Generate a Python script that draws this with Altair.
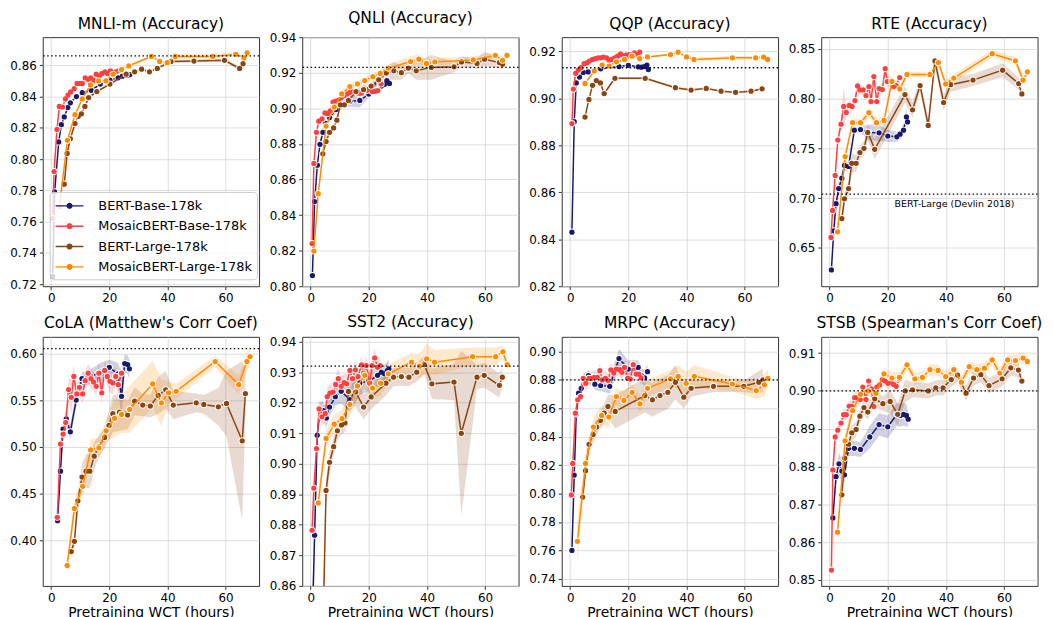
import math
import altair as alt
import pandas as pd

SERIES = ["BERT-Base-178k", "MosaicBERT-Base-178k", "BERT-Large-178k", "MosaicBERT-Large-178k"]
KEYS = ["BB", "MB", "BL", "ML"]
COLORS = ["#191970", "#ff4040", "#8b4513", "#ff8c00"]

X_DOMAIN = [-2.9, 71.5]
X_TICKS = [0, 20, 40, 60]

TASKS = ["MNLI", "QNLI", "QQP", "RTE", "COLA", "SST2", "MRPC", "STSB"]
TITLES = ["MNLI-m (Accuracy)", "QNLI (Accuracy)", "QQP (Accuracy)", "RTE (Accuracy)",
          "CoLA (Matthew's Corr Coef)", "SST2 (Accuracy)", "MRPC (Accuracy)", "STSB (Spearman's Corr Coef)"]
REF_LINES = [0.866, 0.923, 0.913, 0.704, 0.605, 0.932, 0.880, 0.900]

Y_DOMAINS = [[0.7187, 0.878], [0.80, 0.94], [0.82, 0.926], [0.6116, 0.8616],
             [0.3513, 0.6176], [0.86, 0.9416], [0.735, 0.9103], [0.8484, 0.9143]]
MNLI_TICKS = [0.72, 0.74, 0.76, 0.78, 0.80, 0.82, 0.84, 0.86]
QNLI_TICKS = [0.80, 0.82, 0.84, 0.86, 0.88, 0.90, 0.92, 0.94]
QQP_TICKS = [0.82, 0.84, 0.86, 0.88, 0.90, 0.92]
RTE_TICKS = [0.65, 0.70, 0.75, 0.80, 0.85]
COLA_TICKS = [0.40, 0.45, 0.50, 0.55, 0.60]
SST2_TICKS = [0.86, 0.87, 0.88, 0.89, 0.90, 0.91, 0.92, 0.93, 0.94]
MRPC_TICKS = [0.74, 0.76, 0.78, 0.80, 0.82, 0.84, 0.86, 0.88, 0.90]
STSB_TICKS = [0.85, 0.86, 0.87, 0.88, 0.89, 0.90, 0.91]

NOTE_TEXT = ["BERT-Large (Devlin 2018)"]
NOTE_X = [22.3]
NOTE_Y = [0.6937]

# ---------------- MNLI ----------------
MNLI_BB_X = [0.5, 1.2, 2.6, 3.5, 4.5, 5.7, 6.6, 8.7, 10.7, 13.8, 16.9, 20.2, 23.0, 24.5, 26.0, 27.0]
MNLI_BB_Y = [0.725, 0.779, 0.811, 0.822, 0.827, 0.833, 0.836, 0.840, 0.8425, 0.844, 0.848, 0.8505, 0.852, 0.853, 0.8535, 0.854]
MNLI_BB_E = [0.002, 0.002, 0.0015, 0.0015, 0.0015, 0.0012, 0.0012, 0.001, 0.001, 0.001, 0.001, 0.001, 0.001, 0.001, 0.001, 0.001]
MNLI_MB_X = [0.5, 1.0, 2.0, 2.8, 3.9, 4.9, 5.8, 6.7, 7.9, 8.9, 9.9, 10.7, 11.7, 12.7, 13.6, 14.6, 15.5, 16.5, 17.4, 18.5, 19.4, 20.4, 21.3, 22.4, 23.4, 24.2]
MNLI_MB_Y = [0.762, 0.792, 0.819, 0.8337, 0.8333, 0.8385, 0.841, 0.843, 0.845, 0.8484, 0.8484, 0.8484, 0.852, 0.851, 0.852, 0.8505, 0.8543, 0.853, 0.8547, 0.8558, 0.8547, 0.8564, 0.855, 0.856, 0.8568, 0.858]
MNLI_MB_E = [0.002, 0.002, 0.0015, 0.0015, 0.0015, 0.0015, 0.0015, 0.0015, 0.0015, 0.0015, 0.0015, 0.0015, 0.0015, 0.0015, 0.0015, 0.0015, 0.0015, 0.0015, 0.0015, 0.0015, 0.0015, 0.0015, 0.0015, 0.0015, 0.0015, 0.0015]
MNLI_BL_X = [4.5, 5.5, 6.6, 8.2, 9.3, 10.4, 11.6, 12.9, 15.7, 20.2, 25.8, 28.7, 31.1, 33.8, 36.5, 41.2, 49.1, 59.6, 64.8, 66.0]
MNLI_BL_Y = [0.784, 0.8036, 0.813, 0.8227, 0.8274, 0.829, 0.8337, 0.8394, 0.8432, 0.848, 0.8543, 0.8558, 0.8575, 0.8558, 0.858, 0.8625, 0.8627, 0.8632, 0.858, 0.861]
MNLI_BL_E = [0.0015, 0.0015, 0.0012, 0.0012, 0.0012, 0.001, 0.001, 0.001, 0.001, 0.001, 0.001, 0.001, 0.001, 0.001, 0.001, 0.001, 0.001, 0.001, 0.001, 0.001]
MNLI_ML_X = [2.8, 5.6, 8.2, 10.7, 13.5, 16.3, 18.8, 21.3, 24.2, 26.7, 34.5, 37.3, 39.9, 42.7, 55.6, 63.5, 66.3, 67.4]
MNLI_ML_Y = [0.7695, 0.812, 0.8284, 0.8385, 0.8474, 0.850, 0.850, 0.8543, 0.8573, 0.8596, 0.8657, 0.8625, 0.8617, 0.8657, 0.8657, 0.867, 0.8648, 0.868]
MNLI_ML_E = [0.0015, 0.0012, 0.001, 0.001, 0.001, 0.001, 0.001, 0.001, 0.001, 0.001, 0.001, 0.001, 0.001, 0.0015, 0.0015, 0.0015, 0.0012, 0.001]

# ---------------- QNLI ----------------
QNLI_BB_X = [0.6, 1.35, 2.3, 3.2, 4.2, 5.1, 6.5, 8.7, 10.8, 13.5, 16.9, 20.0, 23.1, 24.3, 25.4, 26.2, 27.1]
QNLI_BB_Y = [0.806, 0.8476, 0.868, 0.8798, 0.8865, 0.8915, 0.8948, 0.8993, 0.9017, 0.904, 0.9044, 0.908, 0.916, 0.9125, 0.9135, 0.9155, 0.914]
QNLI_BB_E = [0.004, 0.003, 0.002, 0.002, 0.002, 0.002, 0.002, 0.002, 0.002, 0.003, 0.004, 0.002, 0.002, 0.002, 0.002, 0.002, 0.002]
QNLI_MB_X = [0.5, 1.1, 2.0, 2.8, 3.9, 4.9, 5.8, 6.7, 7.7, 8.6, 9.6, 10.5, 11.5, 12.5, 13.5, 14.5, 15.4, 16.4, 17.4, 18.3, 19.2, 20.2, 21.2, 22.2, 23.1, 24.2]
QNLI_MB_Y = [0.824, 0.869, 0.8865, 0.8928, 0.894, 0.8974, 0.897, 0.8985, 0.9035, 0.904, 0.9044, 0.906, 0.9072, 0.908, 0.909, 0.9096, 0.9094, 0.9085, 0.9085, 0.9113, 0.910, 0.9109, 0.9094, 0.9096, 0.910, 0.9137]
QNLI_MB_E = [0.003, 0.002, 0.002, 0.002, 0.002, 0.002, 0.002, 0.002, 0.003, 0.002, 0.002, 0.002, 0.002, 0.002, 0.002, 0.002, 0.002, 0.002, 0.002, 0.002, 0.002, 0.002, 0.002, 0.002, 0.002, 0.002]
QNLI_BL_X = [4.2, 5.3, 6.5, 7.9, 9.0, 10.2, 11.6, 13.0, 15.6, 18.2, 20.8, 23.4, 26.0, 28.6, 31.2, 33.6, 36.3, 41.5, 49.3, 51.9, 57.2, 59.8, 64.9, 66.0]
QNLI_BL_Y = [0.8744, 0.8813, 0.8865, 0.889, 0.8933, 0.902, 0.902, 0.9044, 0.9094, 0.9105, 0.9125, 0.916, 0.9198, 0.9211, 0.920, 0.9226, 0.9211, 0.923, 0.9233, 0.9261, 0.9252, 0.9276, 0.9257, 0.9248]
QNLI_BL_E = [0.002, 0.002, 0.002, 0.002, 0.002, 0.002, 0.002, 0.002, 0.002, 0.002, 0.002, 0.003, 0.004, 0.005, 0.004, 0.003, 0.005, 0.007, 0.003, 0.003, 0.003, 0.004, 0.003, 0.003]
QNLI_ML_X = [1.1, 2.6, 5.3, 8.1, 10.7, 13.5, 16.1, 18.6, 21.4, 23.9, 26.7, 34.4, 37.2, 39.8, 42.7, 55.9, 63.5, 66.0, 67.5]
QNLI_ML_Y = [0.8198, 0.852, 0.890, 0.9007, 0.9081, 0.9122, 0.9137, 0.9156, 0.9178, 0.9196, 0.9226, 0.9263, 0.9276, 0.9252, 0.9261, 0.9272, 0.9298, 0.927, 0.9298]
QNLI_ML_E = [0.003, 0.002, 0.002, 0.002, 0.002, 0.002, 0.002, 0.002, 0.002, 0.002, 0.002, 0.003, 0.003, 0.002, 0.002, 0.002, 0.002, 0.002, 0.002]

# ---------------- QQP ----------------
QQP_BB_X = [0.6, 1.4, 2.1, 3.2, 4.5, 6.2, 10.5, 16.8, 20.0, 23.4, 24.5, 25.5, 26.4, 26.9]
QQP_BB_Y = [0.843, 0.890, 0.9065, 0.909, 0.911, 0.9112, 0.9125, 0.9135, 0.914, 0.9134, 0.9132, 0.9135, 0.9141, 0.9122]
QQP_BB_E = [0.0008, 0.0006, 0.0005, 0.0005, 0.0005, 0.0005, 0.0005, 0.0005, 0.0005, 0.0005, 0.0005, 0.0005, 0.0005, 0.0005]
QQP_MB_X = [0.6, 1.1, 1.9, 2.8, 3.7, 4.8, 5.7, 6.6, 7.7, 8.6, 9.6, 10.5, 11.4, 12.5, 13.4, 14.4, 15.3, 16.3, 17.3, 18.2, 19.3, 20.2, 21.2, 22.1, 23.0, 23.9]
QQP_MB_Y = [0.8892, 0.9039, 0.9106, 0.912, 0.913, 0.9147, 0.915, 0.9158, 0.9165, 0.9169, 0.9172, 0.9172, 0.9175, 0.9172, 0.9162, 0.9165, 0.9172, 0.9179, 0.9189, 0.918, 0.9183, 0.9186, 0.9186, 0.9193, 0.9186, 0.9196]
QQP_MB_E = [0.0006, 0.0005, 0.0005, 0.0005, 0.0005, 0.0005, 0.0005, 0.0005, 0.0005, 0.0005, 0.0005, 0.0005, 0.0005, 0.0005, 0.0005, 0.0005, 0.0005, 0.0005, 0.0005, 0.0005, 0.0005, 0.0005, 0.0005, 0.0005, 0.0005, 0.0005]
QQP_BL_X = [5.1, 6.45, 7.7, 9.0, 10.4, 11.7, 15.4, 25.8, 36.2, 41.6, 46.8, 51.9, 56.9, 62.2, 66.0]
QQP_BL_Y = [0.892, 0.8995, 0.9055, 0.9075, 0.9065, 0.902, 0.9085, 0.9085, 0.9045, 0.9035, 0.9042, 0.903, 0.9025, 0.903, 0.904]
QQP_BL_E = [0.0005, 0.0005, 0.0005, 0.0005, 0.0005, 0.0005, 0.0005, 0.0005, 0.0005, 0.0005, 0.0005, 0.0005, 0.0005, 0.0005, 0.0005]
QQP_ML_X = [5.1, 8.3, 11.0, 13.4, 15.9, 18.7, 21.3, 23.9, 26.6, 34.5, 37.1, 40.0, 42.6, 55.8, 63.8, 66.5, 67.9]
QQP_ML_Y = [0.9063, 0.9116, 0.9141, 0.9137, 0.9155, 0.9165, 0.9179, 0.9169, 0.9176, 0.9186, 0.9196, 0.9176, 0.9165, 0.9172, 0.9172, 0.9175, 0.9165]
QQP_ML_E = [0.0005, 0.0005, 0.0005, 0.0005, 0.0005, 0.0005, 0.0005, 0.0005, 0.0005, 0.0005, 0.0005, 0.0006, 0.0008, 0.0008, 0.0008, 0.0006, 0.0005]

# ---------------- RTE ----------------
RTE_BB_X = [0.6, 1.4, 2.2, 3.1, 4.2, 5.1, 6.5, 8.5, 10.6, 13.3, 17.0, 20.0, 23.1, 24.2, 25.4, 26.4, 26.8]
RTE_BB_Y = [0.628, 0.6672, 0.6944, 0.7096, 0.720, 0.7328, 0.7318, 0.7682, 0.7689, 0.766, 0.7656, 0.7623, 0.7616, 0.7642, 0.7682, 0.7815, 0.7765]
RTE_BB_E = [0.004, 0.004, 0.005, 0.008, 0.008, 0.006, 0.004, 0.003, 0.003, 0.008, 0.008, 0.006, 0.005, 0.005, 0.006, 0.008, 0.006]
RTE_MB_X = [0.45, 1.0, 1.9, 2.8, 3.9, 4.8, 5.7, 6.7, 7.7, 8.7, 9.6, 10.4, 11.5, 12.5, 13.5, 14.2, 15.2, 16.2, 17.0, 18.1, 19.1, 19.8, 21.0, 22.0, 22.9, 24.1]
RTE_MB_Y = [0.6606, 0.6877, 0.7228, 0.7583, 0.7742, 0.792, 0.786, 0.793, 0.792, 0.798, 0.8126, 0.8086, 0.8086, 0.803, 0.812, 0.797, 0.822, 0.797, 0.810, 0.809, 0.830, 0.817, 0.817, 0.812, 0.813, 0.821]
RTE_MB_E = [0.004, 0.004, 0.004, 0.004, 0.006, 0.02, 0.006, 0.005, 0.005, 0.005, 0.006, 0.005, 0.005, 0.005, 0.006, 0.005, 0.006, 0.005, 0.005, 0.005, 0.006, 0.005, 0.005, 0.005, 0.005, 0.005]
RTE_BL_X = [4.2, 5.1, 6.5, 7.6, 9.1, 10.4, 11.8, 13.1, 15.5, 25.9, 28.5, 31.1, 33.9, 36.2, 39.2, 41.6, 49.3, 59.5, 65.0, 66.1]
RTE_BL_Y = [0.6795, 0.6993, 0.7096, 0.735, 0.735, 0.7457, 0.75, 0.766, 0.749, 0.804, 0.7887, 0.813, 0.773, 0.8377, 0.796, 0.8139, 0.8185, 0.8285, 0.815, 0.8046]
RTE_BL_E = [0.005, 0.006, 0.008, 0.01, 0.008, 0.007, 0.007, 0.008, 0.01, 0.008, 0.008, 0.006, 0.006, 0.006, 0.008, 0.007, 0.006, 0.007, 0.006, 0.004]
RTE_ML_X = [2.7, 5.3, 7.9, 10.6, 13.5, 16.1, 18.7, 21.4, 24.1, 26.6, 34.5, 37.4, 39.9, 42.7, 55.9, 63.9, 66.5, 68.0]
RTE_ML_Y = [0.6662, 0.7417, 0.7758, 0.7758, 0.7858, 0.7758, 0.778, 0.8172, 0.8096, 0.8242, 0.8242, 0.8361, 0.8146, 0.8205, 0.845, 0.8377, 0.8185, 0.8268]
RTE_ML_E = [0.003, 0.004, 0.004, 0.004, 0.005, 0.004, 0.004, 0.004, 0.004, 0.003, 0.003, 0.004, 0.004, 0.004, 0.004, 0.004, 0.005, 0.005]

# ---------------- CoLA ----------------
COLA_BB_X = [2.2, 3.2, 4.1, 5.2, 6.6, 8.6, 10.6, 13.6, 17.0, 20.0, 23.0, 24.2, 25.3, 26.3, 26.9]
COLA_BB_Y = [0.421, 0.474, 0.519, 0.530, 0.516, 0.550, 0.5728, 0.575, 0.580, 0.585, 0.578, 0.554, 0.589, 0.588, 0.5834]
COLA_BB_E = [0.004, 0.006, 0.01, 0.01, 0.008, 0.008, 0.007, 0.008, 0.01, 0.008, 0.012, 0.025, 0.01, 0.01, 0.01]
COLA_MB_X = [2.1, 3.2, 4.1, 5.0, 6.0, 6.9, 7.8, 8.8, 9.7, 10.8, 11.7, 12.7, 13.7, 14.6, 15.5, 16.4, 17.4, 18.4, 19.3, 20.2, 21.2, 22.2, 23.1, 24.2]
COLA_MB_Y = [0.4247, 0.503, 0.5136, 0.526, 0.5612, 0.553, 0.5753, 0.5566, 0.5637, 0.5566, 0.5707, 0.5788, 0.5728, 0.5693, 0.5647, 0.5788, 0.5577, 0.5817, 0.5753, 0.57, 0.5683, 0.5753, 0.5665, 0.5788]
COLA_MB_E = [0.008, 0.006, 0.006, 0.008, 0.012, 0.02, 0.012, 0.01, 0.01, 0.01, 0.01, 0.01, 0.01, 0.01, 0.01, 0.012, 0.012, 0.01, 0.01, 0.012, 0.012, 0.01, 0.012, 0.01]
COLA_BL_X = [6.9, 8.0, 9.2, 10.6, 12.0, 13.3, 14.8, 16.3, 18.4, 19.9, 21.2, 23.5, 26.3, 28.7, 31.5, 34.1, 36.8, 39.4, 42.0, 49.9, 52.5, 57.5, 60.3, 65.7, 66.8]
COLA_BL_Y = [0.388, 0.399, 0.4423, 0.4677, 0.474, 0.474, 0.490, 0.500, 0.510, 0.523, 0.5355, 0.537, 0.534, 0.5488, 0.5446, 0.5436, 0.555, 0.561, 0.5446, 0.547, 0.5453, 0.5428, 0.5464, 0.5065, 0.557]
COLA_BL_E = [0.006, 0.008, 0.01, 0.015, 0.018, 0.018, 0.015, 0.012, 0.012, 0.015, 0.02, 0.02, 0.015, 0.015, 0.012, 0.012, 0.02, 0.02, 0.015, 0.01, 0.01, 0.02, 0.035, 0.085, 0.025]
COLA_ML_X = [5.5, 8.0, 10.8, 13.6, 16.4, 18.9, 21.8, 24.2, 27.0, 34.9, 37.9, 40.4, 43.0, 56.4, 64.5, 67.3, 68.4]
COLA_ML_Y = [0.3732, 0.4342, 0.4578, 0.4967, 0.4988, 0.5171, 0.5305, 0.5347, 0.540, 0.5672, 0.5471, 0.5577, 0.5594, 0.5912, 0.5665, 0.5912, 0.5965]
COLA_ML_E = [0.008, 0.01, 0.01, 0.012, 0.01, 0.012, 0.02, 0.02, 0.025, 0.025, 0.025, 0.012, 0.008, 0.006, 0.01, 0.01, 0.01]

# ---------------- SST2 ----------------
SST2_BB_X = [0.5, 1.35, 2.25, 3.2, 4.2, 5.4, 6.5, 8.5, 10.5, 13.5, 16.9, 20.0, 23.0, 24.3, 25.4, 26.3, 26.9]
SST2_BB_Y = [0.845, 0.8766, 0.9094, 0.9175, 0.9175, 0.915, 0.9186, 0.922, 0.9238, 0.921, 0.9265, 0.927, 0.929, 0.930, 0.9295, 0.9305, 0.9311]
SST2_BB_E = [0.01, 0.006, 0.004, 0.003, 0.003, 0.003, 0.003, 0.003, 0.004, 0.004, 0.004, 0.003, 0.003, 0.003, 0.003, 0.003, 0.003]
SST2_MB_X = [0.5, 1.1, 2.0, 2.9, 3.9, 5.0, 5.7, 6.6, 7.7, 8.6, 9.5, 10.5, 11.5, 12.4, 13.5, 14.4, 15.4, 16.3, 17.5, 18.2, 19.1, 20.3, 21.1, 22.0, 23.0, 23.9]
SST2_MB_Y = [0.8782, 0.892, 0.905, 0.918, 0.9154, 0.9165, 0.922, 0.9232, 0.9235, 0.926, 0.9279, 0.9254, 0.9266, 0.9262, 0.9306, 0.9279, 0.9308, 0.9286, 0.9324, 0.9297, 0.9322, 0.9264, 0.9322, 0.9347, 0.9316, 0.9322]
SST2_MB_E = [0.003, 0.003, 0.003, 0.003, 0.003, 0.003, 0.003, 0.003, 0.003, 0.003, 0.003, 0.003, 0.003, 0.003, 0.003, 0.003, 0.003, 0.003, 0.003, 0.003, 0.003, 0.003, 0.003, 0.003, 0.003, 0.003]
SST2_BL_X = [4.1, 5.3, 6.5, 7.9, 9.2, 10.6, 11.8, 13.0, 15.5, 18.2, 20.8, 25.9, 28.5, 31.2, 33.8, 36.5, 39.1, 41.7, 49.3, 51.8, 57.2, 59.7, 64.9, 65.9]
SST2_BL_Y = [0.84, 0.8913, 0.9005, 0.9056, 0.9108, 0.9127, 0.9134, 0.9237, 0.9235, 0.9186, 0.9219, 0.9264, 0.9284, 0.9286, 0.9284, 0.930, 0.9325, 0.9262, 0.9268, 0.910, 0.9284, 0.929, 0.9257, 0.9284]
SST2_BL_E = [0.01, 0.004, 0.004, 0.003, 0.003, 0.003, 0.003, 0.004, 0.005, 0.004, 0.004, 0.004, 0.003, 0.003, 0.003, 0.003, 0.003, 0.005, 0.006, 0.027, 0.004, 0.004, 0.004, 0.003]
SST2_ML_X = [2.6, 5.3, 8.1, 10.8, 13.5, 16.1, 18.6, 21.3, 24.1, 26.7, 34.7, 37.4, 39.9, 42.6, 55.7, 63.6, 66.1, 67.6]
SST2_ML_Y = [0.8872, 0.9083, 0.913, 0.9148, 0.9195, 0.9255, 0.929, 0.9248, 0.9264, 0.9295, 0.9333, 0.932, 0.9344, 0.9333, 0.9351, 0.9351, 0.9367, 0.9325]
SST2_ML_E = [0.003, 0.003, 0.003, 0.003, 0.004, 0.004, 0.004, 0.004, 0.004, 0.003, 0.003, 0.004, 0.005, 0.004, 0.003, 0.003, 0.002, 0.002]

# ---------------- MRPC ----------------
MRPC_BB_X = [0.6, 1.4, 2.1, 2.9, 3.8, 4.8, 6.3, 8.5, 10.5, 13.6, 16.8, 20.0, 23.4, 24.5, 25.6, 26.6]
MRPC_BB_Y = [0.760, 0.813, 0.856, 0.8706, 0.8741, 0.8807, 0.883, 0.877, 0.876, 0.8755, 0.895, 0.8876, 0.8888, 0.883, 0.8814, 0.8858]
MRPC_BB_E = [0.01, 0.006, 0.004, 0.004, 0.004, 0.004, 0.004, 0.004, 0.004, 0.005, 0.007, 0.006, 0.005, 0.005, 0.006, 0.005]
MRPC_MB_X = [0.4, 0.9, 1.8, 2.6, 3.6, 4.5, 5.4, 6.5, 7.4, 8.3, 9.3, 10.2, 11.0, 12.1, 13.0, 14.0, 15.0, 15.9, 17.0, 17.8, 18.7, 19.8, 20.7, 21.7, 22.7, 23.6, 24.4]
MRPC_MB_Y = [0.799, 0.8212, 0.8566, 0.866, 0.8683, 0.8811, 0.8776, 0.8811, 0.8811, 0.8818, 0.8818, 0.8865, 0.88, 0.8811, 0.8795, 0.887, 0.8848, 0.8876, 0.8872, 0.8853, 0.8888, 0.8811, 0.8806, 0.8907, 0.8841, 0.8841, 0.8814]
MRPC_MB_E = [0.008, 0.005, 0.004, 0.004, 0.004, 0.005, 0.005, 0.005, 0.005, 0.005, 0.005, 0.005, 0.005, 0.005, 0.005, 0.005, 0.005, 0.005, 0.005, 0.005, 0.005, 0.005, 0.005, 0.005, 0.005, 0.005, 0.005]
MRPC_BL_X = [4.3, 5.3, 6.5, 7.9, 9.1, 10.4, 11.7, 13.0, 15.5, 25.7, 28.3, 30.9, 33.6, 36.2, 39.1, 41.6, 49.3, 59.7, 64.9, 66.3]
MRPC_BL_Y = [0.7975, 0.8161, 0.8347, 0.8415, 0.8468, 0.8515, 0.8566, 0.8613, 0.8578, 0.869, 0.866, 0.869, 0.8713, 0.8783, 0.8678, 0.8741, 0.8755, 0.8755, 0.8783, 0.88]
MRPC_BL_E = [0.004, 0.005, 0.005, 0.006, 0.006, 0.006, 0.007, 0.008, 0.012, 0.012, 0.012, 0.012, 0.012, 0.012, 0.008, 0.006, 0.004, 0.004, 0.008, 0.008]
MRPC_ML_X = [2.5, 5.3, 8.0, 10.8, 13.3, 15.9, 18.5, 21.3, 24.0, 26.6, 34.5, 37.1, 39.9, 42.7, 55.8, 64.0, 66.8, 68.0]
MRPC_ML_Y = [0.7664, 0.8212, 0.8468, 0.855, 0.8538, 0.8683, 0.8655, 0.8713, 0.8632, 0.8741, 0.8807, 0.8825, 0.8776, 0.8825, 0.8771, 0.8725, 0.8765, 0.8811]
MRPC_ML_E = [0.015, 0.008, 0.007, 0.007, 0.007, 0.006, 0.006, 0.006, 0.006, 0.006, 0.006, 0.008, 0.008, 0.008, 0.005, 0.006, 0.008, 0.006]

# ---------------- STSB ----------------
STSB_BB_X = [1.1, 2.2, 3.2, 4.2, 5.1, 6.5, 8.5, 10.6, 13.8, 17.0, 20.0, 23.1, 24.3, 25.4, 26.4, 27.0]
STSB_BB_Y = [0.8664, 0.8773, 0.8807, 0.8788, 0.8778, 0.8848, 0.8848, 0.8845, 0.8878, 0.8911, 0.8905, 0.8938, 0.8935, 0.8938, 0.8935, 0.8925]
STSB_BB_E = [0.001, 0.002, 0.003, 0.003, 0.002, 0.002, 0.002, 0.002, 0.003, 0.003, 0.003, 0.003, 0.003, 0.003, 0.003, 0.002]
STSB_MB_X = [0.6, 1.1, 1.9, 2.8, 3.9, 4.8, 5.7, 6.7, 7.6, 8.6, 9.5, 10.5, 11.4, 12.5, 13.4, 14.3, 15.2, 16.2, 17.2, 18.1, 19.1, 20.0, 21.1, 22.0, 22.9, 24.0]
STSB_MB_Y = [0.8526, 0.8791, 0.8878, 0.8896, 0.8915, 0.8937, 0.8937, 0.896, 0.8959, 0.8982, 0.8982, 0.8977, 0.901, 0.8977, 0.9026, 0.9005, 0.8959, 0.901, 0.9016, 0.903, 0.9026, 0.902, 0.9023, 0.9017, 0.9012, 0.9032]
STSB_MB_E = [0.001, 0.0015, 0.0015, 0.0015, 0.0015, 0.0015, 0.0015, 0.0015, 0.0015, 0.0015, 0.0015, 0.0015, 0.0015, 0.0015, 0.0015, 0.0015, 0.0015, 0.0015, 0.0015, 0.0015, 0.0015, 0.0015, 0.0015, 0.0015, 0.0015, 0.0015]
STSB_BL_X = [4.2, 5.2, 6.5, 7.6, 9.1, 10.4, 11.8, 13.1, 15.5, 18.3, 20.8, 23.4, 26.0, 28.5, 33.9, 36.5, 39.0, 41.8, 44.0, 46.9, 49.5, 52.0, 54.8, 59.3, 62.3, 64.9, 66.1]
STSB_BL_Y = [0.8725, 0.8822, 0.8859, 0.8889, 0.8898, 0.8933, 0.8956, 0.8944, 0.8979, 0.8966, 0.8972, 0.8938, 0.900, 0.9003, 0.900, 0.9008, 0.9008, 0.903, 0.9042, 0.8994, 0.9034, 0.9043, 0.9014, 0.9032, 0.9061, 0.9055, 0.9026]
STSB_BL_E = [0.002, 0.002, 0.002, 0.002, 0.002, 0.002, 0.002, 0.002, 0.002, 0.002, 0.003, 0.003, 0.003, 0.002, 0.002, 0.002, 0.002, 0.002, 0.002, 0.002, 0.002, 0.002, 0.002, 0.002, 0.002, 0.002, 0.002]
STSB_ML_X = [2.7, 5.3, 7.9, 10.6, 13.3, 15.9, 18.7, 21.4, 24.0, 26.6, 29.3, 31.9, 34.5, 37.3, 39.9, 42.7, 45.3, 48.0, 50.6, 53.2, 55.9, 58.5, 61.2, 63.9, 66.5, 68.0]
STSB_ML_Y = [0.8626, 0.8868, 0.8948, 0.8991, 0.900, 0.8994, 0.9045, 0.9034, 0.9036, 0.9069, 0.9032, 0.9036, 0.9056, 0.9054, 0.9038, 0.9056, 0.9023, 0.9064, 0.9056, 0.906, 0.9082, 0.9047, 0.9082, 0.908, 0.9087, 0.9078]
STSB_ML_E = [0.0015, 0.0015, 0.0015, 0.0015, 0.0015, 0.0015, 0.0015, 0.0015, 0.0015, 0.0015, 0.0015, 0.0015, 0.0015, 0.0015, 0.0015, 0.0015, 0.0015, 0.0015, 0.0015, 0.0015, 0.0015, 0.0015, 0.0015, 0.0015, 0.0015, 0.0015]

FONT = "DejaVu Sans"
G = globals()


def legend_glyph():
    # short horizontal bar with a round dot in the middle (filled shapes only)
    parts = ["M-1.75,-0.09L-0.3,-0.09L-0.3,0.09L-1.75,0.09Z",
             "M0.3,-0.09L1.75,-0.09L1.75,0.09L0.3,0.09Z"]
    n, r = 20, 0.38
    pts = [(r * math.cos(2 * math.pi * k / n), r * math.sin(2 * math.pi * k / n)) for k in range(n)]
    parts.append("M" + "L".join(f"{px:.3f},{py:.3f}" for px, py in pts) + "Z")
    return "".join(parts)


LEGEND = alt.Legend(
    title=None, orient="bottom-left", offset=7,
    symbolType=legend_glyph(), symbolSize=256, symbolOffset=6, symbolOpacity=1,
    labelFont=FONT, labelFontSize=13, labelColor="black", labelLimit=300, labelOffset=20,
    fillColor="rgba(255,255,255,0.8)", strokeColor="#cccccc", cornerRadius=4,
    padding=5, rowPadding=4.5,
)
SCALE = alt.Scale(domain=SERIES, range=COLORS)


def make_panel(i, show_xtitle):
    task = TASKS[i]
    rows = []
    for key, name in zip(KEYS, SERIES):
        xs = G[f"{task}_{key}_X"]
        ys = G[f"{task}_{key}_Y"]
        es = G[f"{task}_{key}_E"]
        for x, y, e in zip(xs, ys, es):
            rows.append({"series": name, "x": x, "y": y, "lo": y - e, "hi": y + e})
    df = pd.DataFrame(rows)
    ticks = G[f"{task}_TICKS"]

    xscale = alt.Scale(domain=X_DOMAIN, nice=False, zero=False)
    yscale = alt.Scale(domain=Y_DOMAINS[i], nice=False, zero=False)
    xaxis = alt.Axis(values=X_TICKS, title="Pretraining WCT (hours)" if show_xtitle else None, format="d")
    yaxis = alt.Axis(values=ticks, title=None, format=".2f")
    X = alt.X("x:Q", scale=xscale, axis=xaxis)
    Y = alt.Y("y:Q", scale=yscale, axis=yaxis)

    base = alt.Chart(df)
    layers = []
    for name, col in zip(SERIES, COLORS):
        sub = base.transform_filter(alt.datum.series == name)
        layers.append(sub.mark_area(opacity=0.2, color=col, clip=True).encode(
            x=X, y=alt.Y("lo:Q", scale=yscale, axis=yaxis), y2="hi:Q"))
    for name, col in zip(SERIES, COLORS):
        sub = base.transform_filter(alt.datum.series == name)
        layers.append(sub.mark_line(strokeWidth=1.5, color=col, clip=True).encode(x=X, y=Y))
        layers.append(sub.mark_circle(size=52, opacity=1, color="white", clip=True).encode(x=X, y=Y))
        if i == 0:
            layers.append(sub.mark_circle(size=28, opacity=1, clip=True).encode(
                x=X, y=Y, color=alt.Color("series:N", scale=SCALE, legend=LEGEND)))
        else:
            layers.append(sub.mark_circle(size=28, opacity=1, color=col, clip=True).encode(x=X, y=Y))
    ref_df = pd.DataFrame({"ref": [REF_LINES[i]]})
    layers.append(alt.Chart(ref_df).mark_rule(color="black", strokeWidth=1.4, strokeDash=[1.5, 2.5]).encode(
        y=alt.Y("ref:Q", scale=yscale, axis=yaxis)
    ))
    if task == "RTE":
        note_df = pd.DataFrame({"x": NOTE_X, "y": NOTE_Y, "t": NOTE_TEXT})
        layers.append(alt.Chart(note_df).mark_text(
            align="left", baseline="middle", font=FONT, fontSize=9.5, color="black"
        ).encode(
            x=alt.X("x:Q", scale=xscale, axis=xaxis),
            y=alt.Y("y:Q", scale=yscale, axis=yaxis),
            text="t:N",
        ))
    return alt.layer(*layers).properties(
        width=218, height=251,
        title=alt.TitleParams(TITLES[i], font=FONT, fontSize=15.6, fontWeight="normal",
                              color="black", anchor="middle", offset=5, frame="group"),
    )


panels = [make_panel(i, i >= 4) for i in range(8)]

chart = alt.concat(*panels, columns=4, spacing={"row": 51, "column": 43.5}, bounds="flush").resolve_scale(
    color="independent"
).resolve_legend(
    color="independent"
).properties(
    padding={"left": 1, "top": -1, "right": 2, "bottom": 2}
).configure_view(
    stroke="#333333", strokeWidth=1
).configure_axis(
    labelFont=FONT, labelFontSize=12, labelColor="black",
    titleFont=FONT, titleFontSize=14, titleFontWeight="normal", titleColor="black", titlePadding=2,
    tickColor="#333333", tickSize=3.5, labelPadding=3, domain=False,
    grid=True, gridColor="#d4d4d4", gridWidth=0.8, labelOverlap=False,
)

chart.save("out.html", embed_options={"renderer": "svg", "actions": False})
